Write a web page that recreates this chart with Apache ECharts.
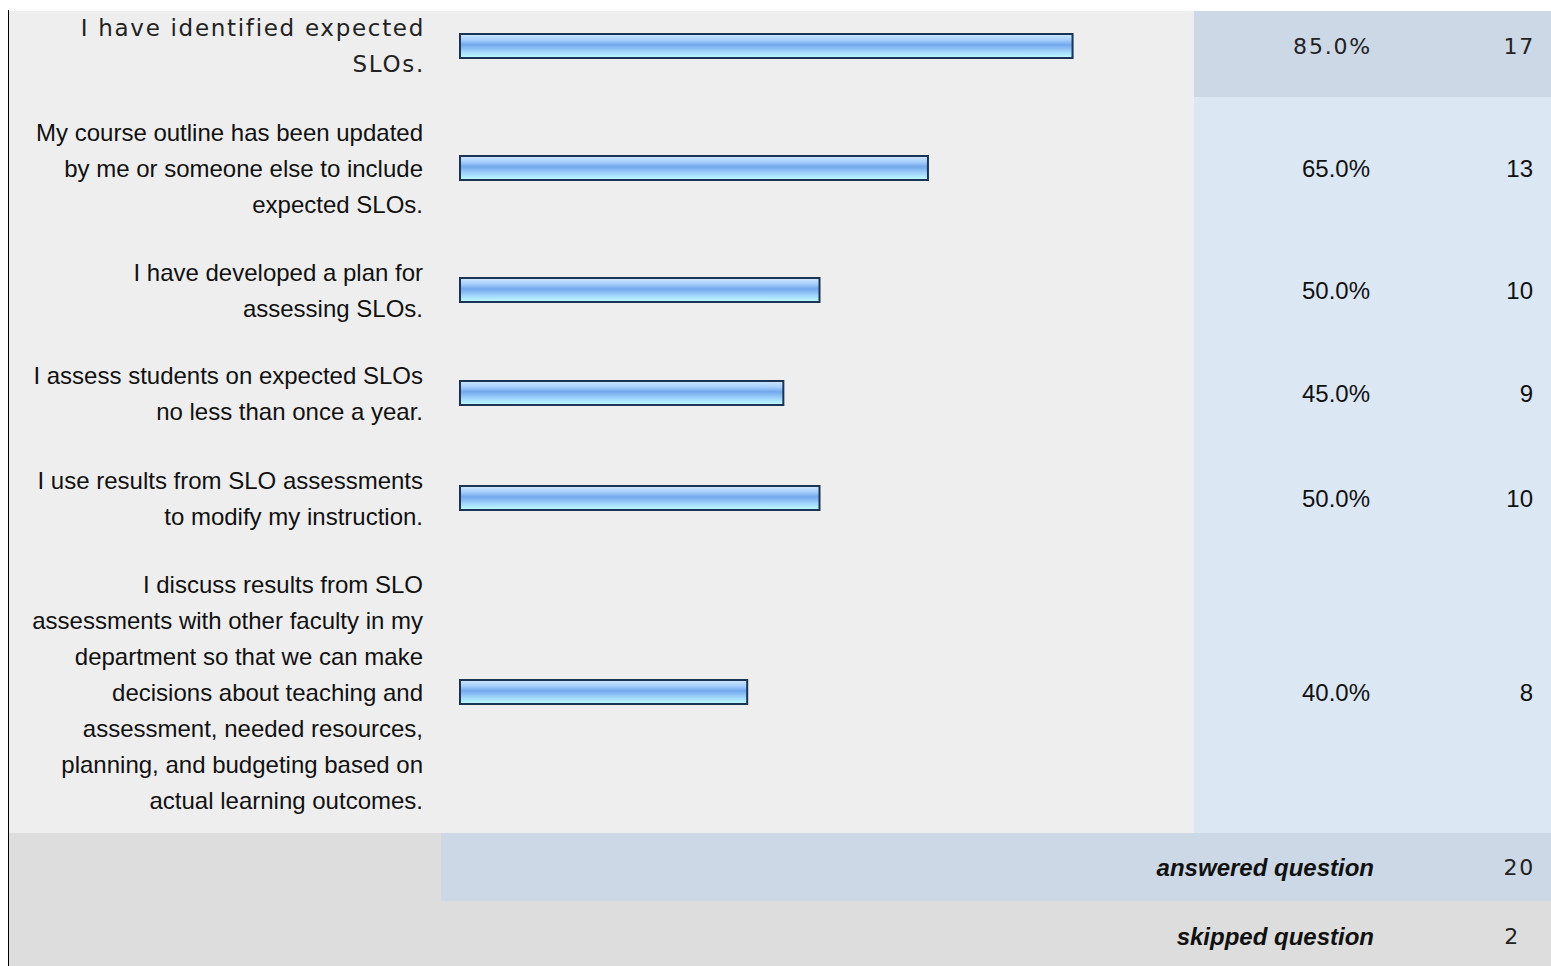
<!DOCTYPE html>
<html>
<head>
<meta charset="utf-8">
<script src="https://cdn.jsdelivr.net/npm/echarts@6/dist/echarts.min.js"></script>
<style>
html,body{margin:0;padding:0;background:#fff;}
#chart{width:1551px;height:966px;}
#chart text[style*="DejaVu"][style*="23px"]{letter-spacing:1.7px;}
#chart text[style*="DejaVu"][style*="22px"]{letter-spacing:1.8px;}
</style>
</head>
<body>
<div id="chart"></div>
<script>
// ---- data ----
const categories = [
  "I have identified expected\nSLOs.",
  "My course outline has been updated\nby me or someone else to include\nexpected SLOs.",
  "I have developed a plan for\nassessing SLOs.",
  "I assess students on expected SLOs\nno less than once a year.",
  "I use results from SLO assessments\nto modify my instruction.",
  "I discuss results from SLO\nassessments with other faculty in my\ndepartment so that we can make\ndecisions about teaching and\nassessment, needed resources,\nplanning, and budgeting based on\nactual learning outcomes."
];
const percentValues = [85.0, 65.0, 50.0, 45.0, 50.0, 40.0];
const responseCounts = [17, 13, 10, 9, 10, 8];
const summaryLabels = ["answered question", "skipped question"];
const summaryValues = [20, 2];

// ---- layout (positions only) ----
const rowCenters = [46, 168, 290, 393, 498, 692];
const summaryCenters = [867, 936];
const gridLeft = 459, gridWidth = 723, barH = 26;

const wideFont = '"DejaVu Sans"';
const armFont = '"Liberation Sans", Arial';

const grids = [], xAxes = [], yAxes = [], series = [];
categories.forEach((c, i) => {
  const wide = i === 0;
  grids.push({left: gridLeft, width: gridWidth, top: rowCenters[i] - 20, height: 40, containLabel: false});
  xAxes.push({gridIndex: i, type: 'value', min: 0, max: 100, show: false});
  yAxes.push({
    gridIndex: i, type: 'category', data: [c], z: 5,
    axisLine: {show: false}, axisTick: {show: false}, splitLine: {show: false},
    axisLabel: {
      margin: wide ? 34 : 36, align: 'right', lineHeight: 36,
      fontSize: wide ? 23 : 24, fontFamily: wide ? 'DejaVu Sans' : 'Liberation Sans',
      color: wide ? '#222' : '#111'
    }
  });
  series.push({
    type: 'bar', xAxisIndex: i, yAxisIndex: i, data: [percentValues[i]],
    barWidth: barH, silent: true,
    itemStyle: {
      borderColor: '#1b3354', borderWidth: 2,
      color: {type: 'linear', x: 0, y: 0, x2: 0, y2: 1, colorStops: [
        {offset: 0, color: '#d0e8ff'},
        {offset: 0.25, color: '#a6cffc'},
        {offset: 0.45, color: '#72a7ec'},
        {offset: 0.72, color: '#a0d4fb'},
        {offset: 1, color: '#c0ffff'}
      ]}
    }
  });
});

const graphics = [
  {type: 'rect', z: -10, shape: {x: 9, y: 11, width: 1185, height: 822}, style: {fill: '#eeeeee'}},
  {type: 'rect', z: -10, shape: {x: 1194, y: 11, width: 357, height: 86}, style: {fill: '#ccd8e6'}},
  {type: 'rect', z: -10, shape: {x: 1194, y: 97, width: 357, height: 736}, style: {fill: '#dce7f4'}},
  {type: 'rect', z: -10, shape: {x: 9, y: 833, width: 432, height: 68}, style: {fill: '#dddddd'}},
  {type: 'rect', z: -10, shape: {x: 441, y: 833, width: 1110, height: 68}, style: {fill: '#ccd8e6'}},
  {type: 'rect', z: -10, shape: {x: 9, y: 901, width: 1542, height: 65}, style: {fill: '#dddddd'}},
  {type: 'line', z: 10, shape: {x1: 8.5, y1: 10, x2: 8.5, y2: 966}, style: {stroke: '#000', lineWidth: 1}}
];
percentValues.forEach((p, i) => {
  const wide = i === 0;
  const f = wide ? '22px ' + wideFont : '24px ' + armFont;
  graphics.push({type: 'text', z: 20, style: {
    text: p.toFixed(1) + '%', x: wide ? 1372 : 1370, y: rowCenters[i],
    textAlign: 'right', textVerticalAlign: 'middle', font: f, fill: wide ? '#222' : '#111'}});
  graphics.push({type: 'text', z: 20, style: {
    text: String(responseCounts[i]), x: wide ? 1535 : 1533, y: rowCenters[i],
    textAlign: 'right', textVerticalAlign: 'middle', font: f, fill: wide ? '#222' : '#111'}});
});
summaryLabels.forEach((s, i) => {
  graphics.push({type: 'text', z: 20, style: {
    text: s, x: 1374, y: summaryCenters[i], textAlign: 'right', textVerticalAlign: 'middle',
    font: 'italic bold 24px ' + armFont, fill: '#111'}});
  graphics.push({type: 'text', z: 20, style: {
    text: String(summaryValues[i]), x: i === 0 ? 1535 : 1520, y: summaryCenters[i],
    textAlign: 'right', textVerticalAlign: 'middle', font: '22px ' + wideFont, fill: '#222'}});
});

const chart = echarts.init(document.getElementById('chart'), null, {renderer: 'svg'});
chart.setOption({
  animation: false,
  backgroundColor: '#ffffff',
  grid: grids, xAxis: xAxes, yAxis: yAxes, series: series,
  graphic: {elements: graphics}
});
</script>
</body>
</html>
